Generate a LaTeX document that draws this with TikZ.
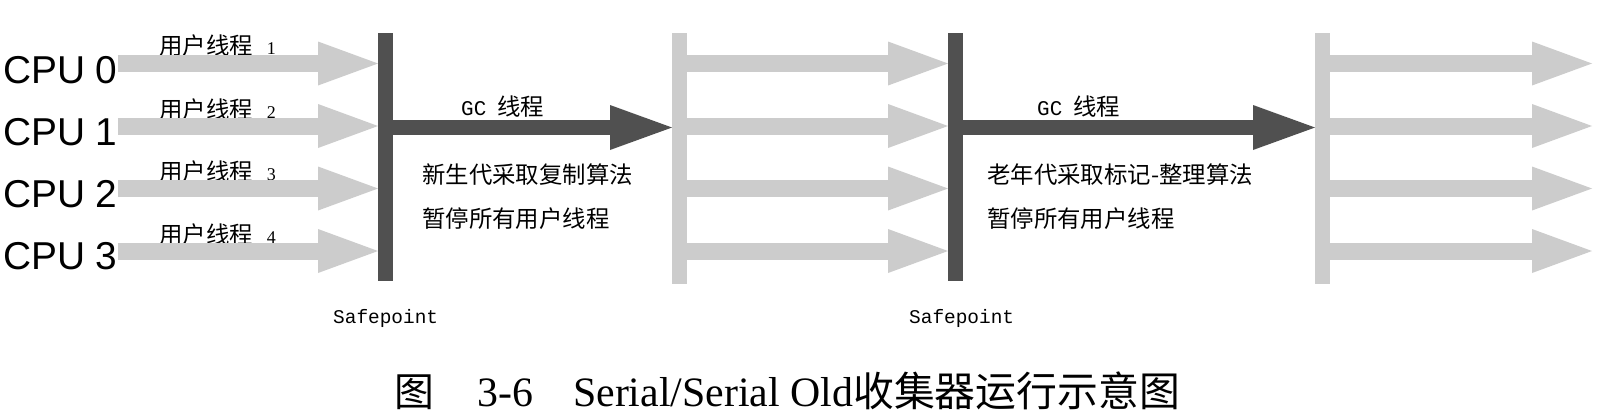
\documentclass[tikz,border=0pt]{standalone}
\usepackage{fontspec}
\setmainfont{Liberation Serif}
\newfontfamily\cjk{Noto Sans CJK SC}
\newfontfamily\cpufont{Liberation Sans}
\newfontfamily\monofont{Liberation Mono}
\usetikzlibrary{arrows.meta}
\definecolor{lightbar}{RGB}{204,204,204}
\definecolor{darkbar}{RGB}{80,80,80}
\begin{document}
\begin{tikzpicture}[x=1bp,y=-1bp,
  bar/.style={rectangle, inner sep=0, minimum width=15bp, anchor=north west},
  darkbarstyle/.style={bar, fill=darkbar, minimum height=248bp},
  lightbarstyle/.style={bar, fill=lightbar, minimum height=251bp},
  lightarrow/.style={draw=lightbar, line width=17bp, -{Triangle[length=60bp 0 0, width=44bp 0 0, line width=0pt]}},
  gcarrow/.style={draw=darkbar, line width=15bp, -{Triangle[length=62bp 0 0, width=45bp 0 0, line width=0pt]}},
  cpu/.style={anchor=base west, inner sep=0, font=\cpufont\fontsize{39}{39}\selectfont},
  ulabel/.style={anchor=west, inner sep=0, font=\cjk\fontsize{23.5}{23.5}\selectfont},
  gclabel/.style={anchor=west, inner sep=0, font=\cjk\fontsize{23.5}{23.5}\selectfont},
  splabel/.style={anchor=base west, inner sep=0, font=\monofont\fontsize{19.5}{19.5}\selectfont},
  captext/.style={anchor=base west, inner sep=0, font=\fontsize{42}{42}\selectfont}]
\fill[white] (0,0) rectangle (1610,418);
\useasboundingbox (0,0) rectangle (1610,418);
% row coordinates
\coordinate (r0) at (0,63.5);
\coordinate (r1) at (0,126);
\coordinate (r2) at (0,188.5);
\coordinate (r3) at (0,251);
\coordinate (g) at (0,127.5);
\coordinate (tipend) at (1592,0);
% bars
\node[darkbarstyle] (sp1) at (378,33) {};
\node[lightbarstyle] (lb2) at (672,33) {};
\node[darkbarstyle] (sp2) at (948,33) {};
\node[lightbarstyle] (lb3) at (1315,33) {};
% CPU labels
\node[cpu] (c0) at (3,83) {CPU 0};
\node[cpu] (c1) at (3,145) {CPU 1};
\node[cpu] (c2) at (3,207) {CPU 2};
\node[cpu] (c3) at (3,269) {CPU 3};
% user thread labels
\node[ulabel] (u0) at (159,46) {用户线程\hspace{14bp}{\rmfamily\fontsize{18}{18}\selectfont 1}};
\node[ulabel] (u1) at (159,110) {用户线程\hspace{14bp}{\rmfamily\fontsize{18}{18}\selectfont 2}};
\node[ulabel] (u2) at (159,172) {用户线程\hspace{14bp}{\rmfamily\fontsize{18}{18}\selectfont 3}};
\node[ulabel] (u3) at (159,235) {用户线程\hspace{14bp}{\rmfamily\fontsize{18}{18}\selectfont 4}};
% section 1 arrows
\draw[lightarrow] (c0.east |- r0) -- (sp1.west |- r0);
\draw[lightarrow] (c1.east |- r1) -- (sp1.west |- r1);
\draw[lightarrow] (c2.east |- r2) -- (sp1.west |- r2);
\draw[lightarrow] (c3.east |- r3) -- (sp1.west |- r3);
% GC arrows
\draw[gcarrow] (sp1.east |- g) -- (lb2.west |- g);
\draw[gcarrow] (sp2.east |- g) -- (lb3.west |- g);
% section 2 arrows
\draw[lightarrow] (lb2.east |- r0) -- (sp2.west |- r0);
\draw[lightarrow] (lb2.east |- r1) -- (sp2.west |- r1);
\draw[lightarrow] (lb2.east |- r2) -- (sp2.west |- r2);
\draw[lightarrow] (lb2.east |- r3) -- (sp2.west |- r3);
% section 3 arrows
\draw[lightarrow] (lb3.east |- r0) -- (tipend |- r0);
\draw[lightarrow] (lb3.east |- r1) -- (tipend |- r1);
\draw[lightarrow] (lb3.east |- r2) -- (tipend |- r2);
\draw[lightarrow] (lb3.east |- r3) -- (tipend |- r3);
% GC labels and texts
\node[gclabel] (gc1) at (461,107) {{\monofont\fontsize{21}{21}\selectfont GC}\hspace{11bp}线程};
\node[gclabel] (t1a) at (422,175) {新生代采取复制算法};
\node[gclabel] (t1b) at (422,219) {暂停所有用户线程};
\node[gclabel] (gc2) at (1037,107) {{\monofont\fontsize{21}{21}\selectfont GC}\hspace{11bp}线程};
\node[gclabel] (t2a) at (987,175) {老年代采取标记-整理算法};
\node[gclabel] (t2b) at (987,219) {暂停所有用户线程};
% safepoint labels
\node[splabel] (s1) at (333,323) {Safepoint};
\node[splabel] (s2) at (909,323) {Safepoint};
% caption
\node[captext] (capfig) at (394,406) {\cjk\fontsize{40}{40}\selectfont 图};
\node[captext] (capnum) at (477,406) {3-6};
\node[captext] (captitle) at (573,406) {Serial/Serial Old{\cjk\fontsize{41}{41}\selectfont 收集器运行示意图}};
\end{tikzpicture}
\end{document}
